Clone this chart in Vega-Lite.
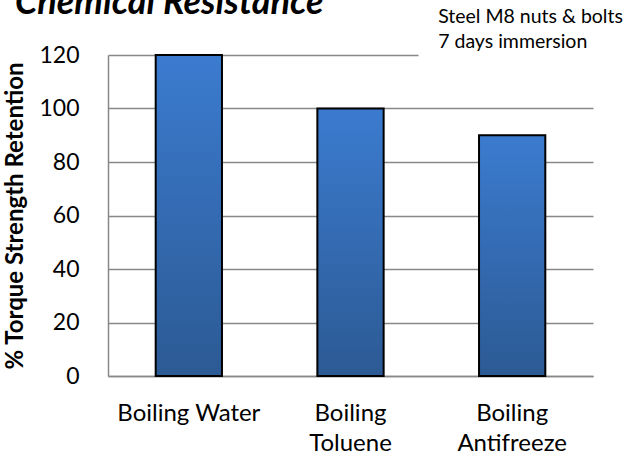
{
  "$schema": "https://vega.github.io/schema/vega-lite/v6.json",
  "width": 485,
  "height": 321,
  "autosize": {"type": "none"},
  "padding": {"left": 108, "top": 55, "right": 34, "bottom": 78},
  "background": "white",
  "config": {"view": {"stroke": null}, "font": "Lato"},
  "title": {
    "text": "Chemical Resistance",
    "anchor": "start",
    "frame": "group",
    "font": "Lato",
    "fontSize": 36,
    "fontStyle": "italic",
    "fontWeight": "bold",
    "color": "#000000",
    "baseline": "alphabetic",
    "dx": -93,
    "dy": 45,
    "offset": 2
  },
  "data": {
    "values": [
      {"medium": "Boiling Water", "retention": 120},
      {"medium": "Boiling Toluene", "retention": 100},
      {"medium": "Boiling Antifreeze", "retention": 90}
    ]
  },
  "layer": [
    {
      "mark": {
        "type": "bar",
        "stroke": "#000000",
        "strokeWidth": 2,
        "color": {
          "gradient": "linear",
          "x1": 0, "y1": 0, "x2": 0, "y2": 1,
          "stops": [
            {"offset": 0, "color": "#3b7bcf"},
            {"offset": 1, "color": "#2c5a94"}
          ]
        }
      },
      "encoding": {
        "x": {
          "field": "medium",
          "type": "nominal",
          "sort": null,
          "scale": {"paddingInner": 0.59, "paddingOuter": 0.295},
          "axis": {
            "title": null,
            "labelAngle": 0,
            "labelFont": "Lato",
            "labelFontSize": 24,
            "labelColor": "#000000",
            "labelPadding": 25,
            "labelLineHeight": 30,
            "labelBaseline": "top",
            "labelExpr": "datum.value == 'Boiling Water' ? datum.value : split(datum.value, ' ')",
            "ticks": false,
            "domain": true,
            "domainColor": "#888888",
            "domainWidth": 1.5,
            "grid": false
          }
        },
        "y": {
          "field": "retention",
          "type": "quantitative",
          "scale": {"domain": [0, 120], "nice": false},
          "axis": {
            "title": "% Torque Strength Retention",
            "titleFont": "Lato",
            "titleFontSize": 24,
            "titleFontWeight": "bold",
            "titleColor": "#000000",
            "titlePadding": 11,
            "values": [0, 20, 40, 60, 80, 100, 120],
            "labelFont": "Lato",
            "labelFontSize": 23,
            "labelColor": "#000000",
            "labelPadding": 29,
            "ticks": false,
            "domain": true,
            "domainColor": "#888888",
            "domainWidth": 1.5,
            "grid": true,
            "gridColor": "#888888",
            "gridWidth": 1.5,
            "gridDash": {"condition": {"test": "datum.value == 120", "value": [310, 400]}, "value": []}
          }
        }
      }
    },
    {
      "data": {"values": [{"note": "Steel M8 nuts & bolts"}]},
      "mark": {
        "type": "text",
        "align": "left",
        "baseline": "alphabetic",
        "font": "Lato",
        "fontSize": 19.5,
        "fontWeight": "normal",
        "lineHeight": 25,
        "color": "#000000",
        "dx": -74,
        "dy": -32,
        "text": ["Steel M8 nuts & bolts", "7 days immersion"]
      },
      "encoding": {
        "x": {"datum": "Boiling Antifreeze", "type": "nominal"},
        "y": {"datum": 120, "type": "quantitative"}
      }
    }
  ]
}
